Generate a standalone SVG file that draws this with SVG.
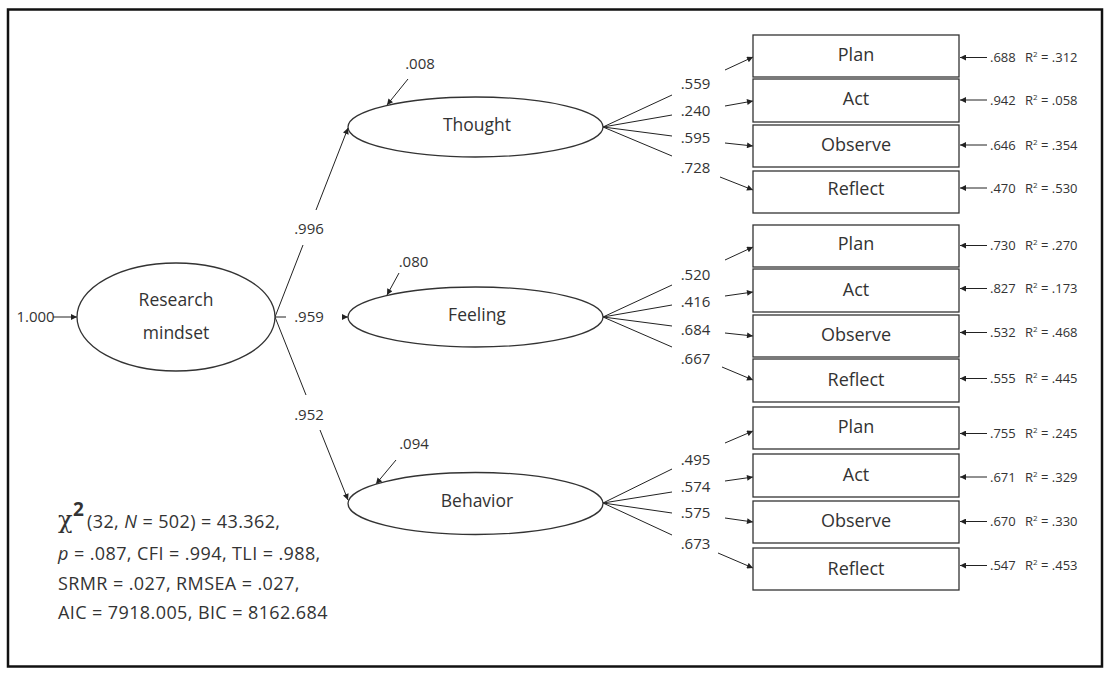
<svg xmlns="http://www.w3.org/2000/svg" width="1105" height="675" viewBox="0 0 1105 675">
  <defs>
    <marker id="arr" viewBox="0 0 10 10" refX="10" refY="5" markerWidth="7" markerHeight="6" markerUnits="userSpaceOnUse" orient="auto">
      <path d="M0,0 L10,5 L0,10 z" fill="#222"/>
    </marker>
    <style>
      text { font-family: "Open Sans", "Liberation Sans", sans-serif; fill: #333; }
      .node { font-size: 17.5px; text-anchor: middle; }
      .box { font-size: 18px; text-anchor: middle; }
      .coef { font-size: 15px; text-anchor: middle; }
      .r2 { font-size: 13px; }
      .fit { font-size: 18px; letter-spacing: 0.4px; }
      .lat { fill: #fff; stroke: #333; stroke-width: 1.3; }
      .obs { fill: #fff; stroke: #333; stroke-width: 1.3; }
      .edge { stroke: #222; stroke-width: 1; fill: none; }
      .arrow { stroke: #222; stroke-width: 1; fill: none; marker-end: url(#arr); }
    </style>
  </defs>

  <rect x="0" y="0" width="1105" height="675" fill="#fff"/>
  <!-- frame -->
  <rect x="8" y="9.5" width="1094" height="657" fill="none" stroke="#111" stroke-width="2.5"/>

  <!-- connectors -->
  <g id="connectors">
    <!-- second-order paths -->
    <line class="arrow" x1="53" y1="317" x2="77" y2="317"/>
    <line class="edge" x1="275" y1="317" x2="303" y2="245"/>
    <line class="arrow" x1="316" y1="210" x2="348" y2="128"/>
    <line class="edge" x1="275" y1="317" x2="286" y2="317"/>
    <line class="arrow" x1="342" y1="317" x2="348" y2="317"/>
    <line class="edge" x1="275" y1="317" x2="306" y2="395"/>
    <line class="arrow" x1="320" y1="430" x2="348" y2="500"/>
    <!-- disturbances -->
    <line class="arrow" x1="408" y1="79" x2="387" y2="105"/>
    <line class="arrow" x1="399" y1="273" x2="387" y2="295"/>
    <line class="arrow" x1="396" y1="460" x2="376" y2="484"/>

    <!-- Thought loadings -->
    <line class="edge" x1="603" y1="127" x2="672" y2="95"/>
    <line class="edge" x1="603" y1="127" x2="672" y2="115"/>
    <line class="edge" x1="603" y1="127" x2="672" y2="136"/>
    <line class="edge" x1="603" y1="127" x2="672" y2="156"/>
    <line class="arrow" x1="725" y1="70" x2="753" y2="57"/>
    <line class="arrow" x1="725" y1="106" x2="753" y2="101"/>
    <line class="arrow" x1="725" y1="143" x2="753" y2="146"/>
    <line class="arrow" x1="720" y1="177" x2="753" y2="190"/>

    <!-- Feeling loadings -->
    <line class="edge" x1="603" y1="317" x2="672" y2="285"/>
    <line class="edge" x1="603" y1="317" x2="672" y2="305"/>
    <line class="edge" x1="603" y1="317" x2="672" y2="326"/>
    <line class="edge" x1="603" y1="317" x2="672" y2="347"/>
    <line class="arrow" x1="725" y1="260" x2="753" y2="247"/>
    <line class="arrow" x1="725" y1="296" x2="753" y2="292"/>
    <line class="arrow" x1="725" y1="333" x2="753" y2="336"/>
    <line class="arrow" x1="722" y1="367" x2="753" y2="380"/>

    <!-- Behavior loadings -->
    <line class="edge" x1="603" y1="503" x2="672" y2="469"/>
    <line class="edge" x1="603" y1="503" x2="672" y2="492"/>
    <line class="edge" x1="603" y1="503" x2="672" y2="513"/>
    <line class="edge" x1="603" y1="503" x2="672" y2="535"/>
    <line class="arrow" x1="725" y1="443" x2="753" y2="431"/>
    <line class="arrow" x1="725" y1="481" x2="753" y2="477"/>
    <line class="arrow" x1="725" y1="518" x2="753" y2="522"/>
    <line class="arrow" x1="718" y1="553" x2="753" y2="568"/>

    <!-- indicator errors -->
    <line class="arrow" x1="987" y1="57.5" x2="960" y2="57.5"/>
    <line class="arrow" x1="987" y1="100" x2="960" y2="100"/>
    <line class="arrow" x1="987" y1="145" x2="960" y2="145"/>
    <line class="arrow" x1="987" y1="188" x2="960" y2="188"/>
    <line class="arrow" x1="987" y1="245.5" x2="960" y2="245.5"/>
    <line class="arrow" x1="987" y1="288.5" x2="960" y2="288.5"/>
    <line class="arrow" x1="987" y1="332.5" x2="960" y2="332.5"/>
    <line class="arrow" x1="987" y1="378.5" x2="960" y2="378.5"/>
    <line class="arrow" x1="987" y1="433.5" x2="960" y2="433.5"/>
    <line class="arrow" x1="987" y1="477" x2="960" y2="477"/>
    <line class="arrow" x1="987" y1="521.5" x2="960" y2="521.5"/>
    <line class="arrow" x1="987" y1="565.5" x2="960" y2="565.5"/>
  </g>

  <!-- coefficients -->
  <g id="coefficients">
    <text class="coef" x="35.5" y="322">1.000</text>
    <text class="coef" x="309" y="234">.996</text>
    <text class="coef" x="309" y="322">.959</text>
    <text class="coef" x="309" y="420">.952</text>
    <text class="coef" x="420" y="69">.008</text>
    <text class="coef" x="413.5" y="267">.080</text>
    <text class="coef" x="414" y="449">.094</text>
    <text class="coef" x="695.5" y="89">.559</text>
    <text class="coef" x="695.5" y="116">.240</text>
    <text class="coef" x="695.5" y="143">.595</text>
    <text class="coef" x="695.5" y="173">.728</text>
    <text class="coef" x="695.5" y="280">.520</text>
    <text class="coef" x="695.5" y="307">.416</text>
    <text class="coef" x="695.5" y="335">.684</text>
    <text class="coef" x="695.5" y="364">.667</text>
    <text class="coef" x="695.5" y="465">.495</text>
    <text class="coef" x="695.5" y="492">.574</text>
    <text class="coef" x="695.5" y="518">.575</text>
    <text class="coef" x="695.5" y="549">.673</text>
  </g>

  <!-- latent variables -->
  <g id="research-mindset">
    <ellipse class="lat" cx="176" cy="317" rx="99" ry="54"/>
    <text class="node" x="176" y="306">Research</text>
    <text class="node" x="176" y="339">mindset</text>
  </g>
  <g id="thought">
    <ellipse class="lat" cx="475.5" cy="127" rx="127.5" ry="30"/>
    <text class="node" x="477" y="131">Thought</text>
  </g>
  <g id="feeling">
    <ellipse class="lat" cx="475.5" cy="317" rx="127.5" ry="30"/>
    <text class="node" x="477" y="321">Feeling</text>
  </g>
  <g id="behavior">
    <ellipse class="lat" cx="475.5" cy="503.5" rx="127.5" ry="31"/>
    <text class="node" x="477" y="507">Behavior</text>
  </g>

  <!-- Thought indicators -->
  <g id="thought-plan">
    <rect class="obs" x="753" y="35" width="206" height="42"/>
    <text class="box" x="856" y="61">Plan</text>
    <text class="r2" x="990" y="62">.688<tspan x="1025">R</tspan><tspan font-size="8" dy="-5">2</tspan><tspan dy="5"> = .312</tspan></text>
  </g>
  <g id="thought-act">
    <rect class="obs" x="753" y="79" width="206" height="43"/>
    <text class="box" x="856" y="105">Act</text>
    <text class="r2" x="990" y="104.5">.942<tspan x="1025">R</tspan><tspan font-size="8" dy="-5">2</tspan><tspan dy="5"> = .058</tspan></text>
  </g>
  <g id="thought-observe">
    <rect class="obs" x="753" y="125" width="206" height="42"/>
    <text class="box" x="856" y="151">Observe</text>
    <text class="r2" x="990" y="149.5">.646<tspan x="1025">R</tspan><tspan font-size="8" dy="-5">2</tspan><tspan dy="5"> = .354</tspan></text>
  </g>
  <g id="thought-reflect">
    <rect class="obs" x="753" y="171" width="206" height="42"/>
    <text class="box" x="856" y="195">Reflect</text>
    <text class="r2" x="990" y="192.5">.470<tspan x="1025">R</tspan><tspan font-size="8" dy="-5">2</tspan><tspan dy="5"> = .530</tspan></text>
  </g>

  <!-- Feeling indicators -->
  <g id="feeling-plan">
    <rect class="obs" x="753" y="225" width="206" height="42"/>
    <text class="box" x="856" y="250">Plan</text>
    <text class="r2" x="990" y="250">.730<tspan x="1025">R</tspan><tspan font-size="8" dy="-5">2</tspan><tspan dy="5"> = .270</tspan></text>
  </g>
  <g id="feeling-act">
    <rect class="obs" x="753" y="269" width="206" height="43"/>
    <text class="box" x="856" y="296">Act</text>
    <text class="r2" x="990" y="293">.827<tspan x="1025">R</tspan><tspan font-size="8" dy="-5">2</tspan><tspan dy="5"> = .173</tspan></text>
  </g>
  <g id="feeling-observe">
    <rect class="obs" x="753" y="315" width="206" height="42"/>
    <text class="box" x="856" y="341">Observe</text>
    <text class="r2" x="990" y="337">.532<tspan x="1025">R</tspan><tspan font-size="8" dy="-5">2</tspan><tspan dy="5"> = .468</tspan></text>
  </g>
  <g id="feeling-reflect">
    <rect class="obs" x="753" y="359" width="206" height="43"/>
    <text class="box" x="856" y="386">Reflect</text>
    <text class="r2" x="990" y="383">.555<tspan x="1025">R</tspan><tspan font-size="8" dy="-5">2</tspan><tspan dy="5"> = .445</tspan></text>
  </g>

  <!-- Behavior indicators -->
  <g id="behavior-plan">
    <rect class="obs" x="753" y="407" width="206" height="42"/>
    <text class="box" x="856" y="433">Plan</text>
    <text class="r2" x="990" y="438">.755<tspan x="1025">R</tspan><tspan font-size="8" dy="-5">2</tspan><tspan dy="5"> = .245</tspan></text>
  </g>
  <g id="behavior-act">
    <rect class="obs" x="753" y="454" width="206" height="43"/>
    <text class="box" x="856" y="481">Act</text>
    <text class="r2" x="990" y="481.5">.671<tspan x="1025">R</tspan><tspan font-size="8" dy="-5">2</tspan><tspan dy="5"> = .329</tspan></text>
  </g>
  <g id="behavior-observe">
    <rect class="obs" x="753" y="501" width="206" height="42"/>
    <text class="box" x="856" y="527">Observe</text>
    <text class="r2" x="990" y="526">.670<tspan x="1025">R</tspan><tspan font-size="8" dy="-5">2</tspan><tspan dy="5"> = .330</tspan></text>
  </g>
  <g id="behavior-reflect">
    <rect class="obs" x="753" y="548" width="206" height="42"/>
    <text class="box" x="856" y="575">Reflect</text>
    <text class="r2" x="990" y="570">.547<tspan x="1025">R</tspan><tspan font-size="8" dy="-5">2</tspan><tspan dy="5"> = .453</tspan></text>
  </g>

  <!-- model fit summary -->
  <g id="fit-indices">
    <text class="fit" x="58" y="528"><tspan font-family="DejaVu Serif, serif" font-size="24" letter-spacing="0">χ</tspan><tspan x="73" font-weight="bold" font-size="19" dy="-12">2</tspan><tspan x="87" dy="12">(32, <tspan font-style="italic">N</tspan> = 502) = 43.362,</tspan></text>
    <text class="fit" x="58" y="560"><tspan font-style="italic">p</tspan> = .087, CFI = .994, TLI = .988,</text>
    <text class="fit" x="58" y="590">SRMR = .027, RMSEA = .027,</text>
    <text class="fit" x="58" y="619">AIC = 7918.005, BIC = 8162.684</text>
  </g>
</svg>
